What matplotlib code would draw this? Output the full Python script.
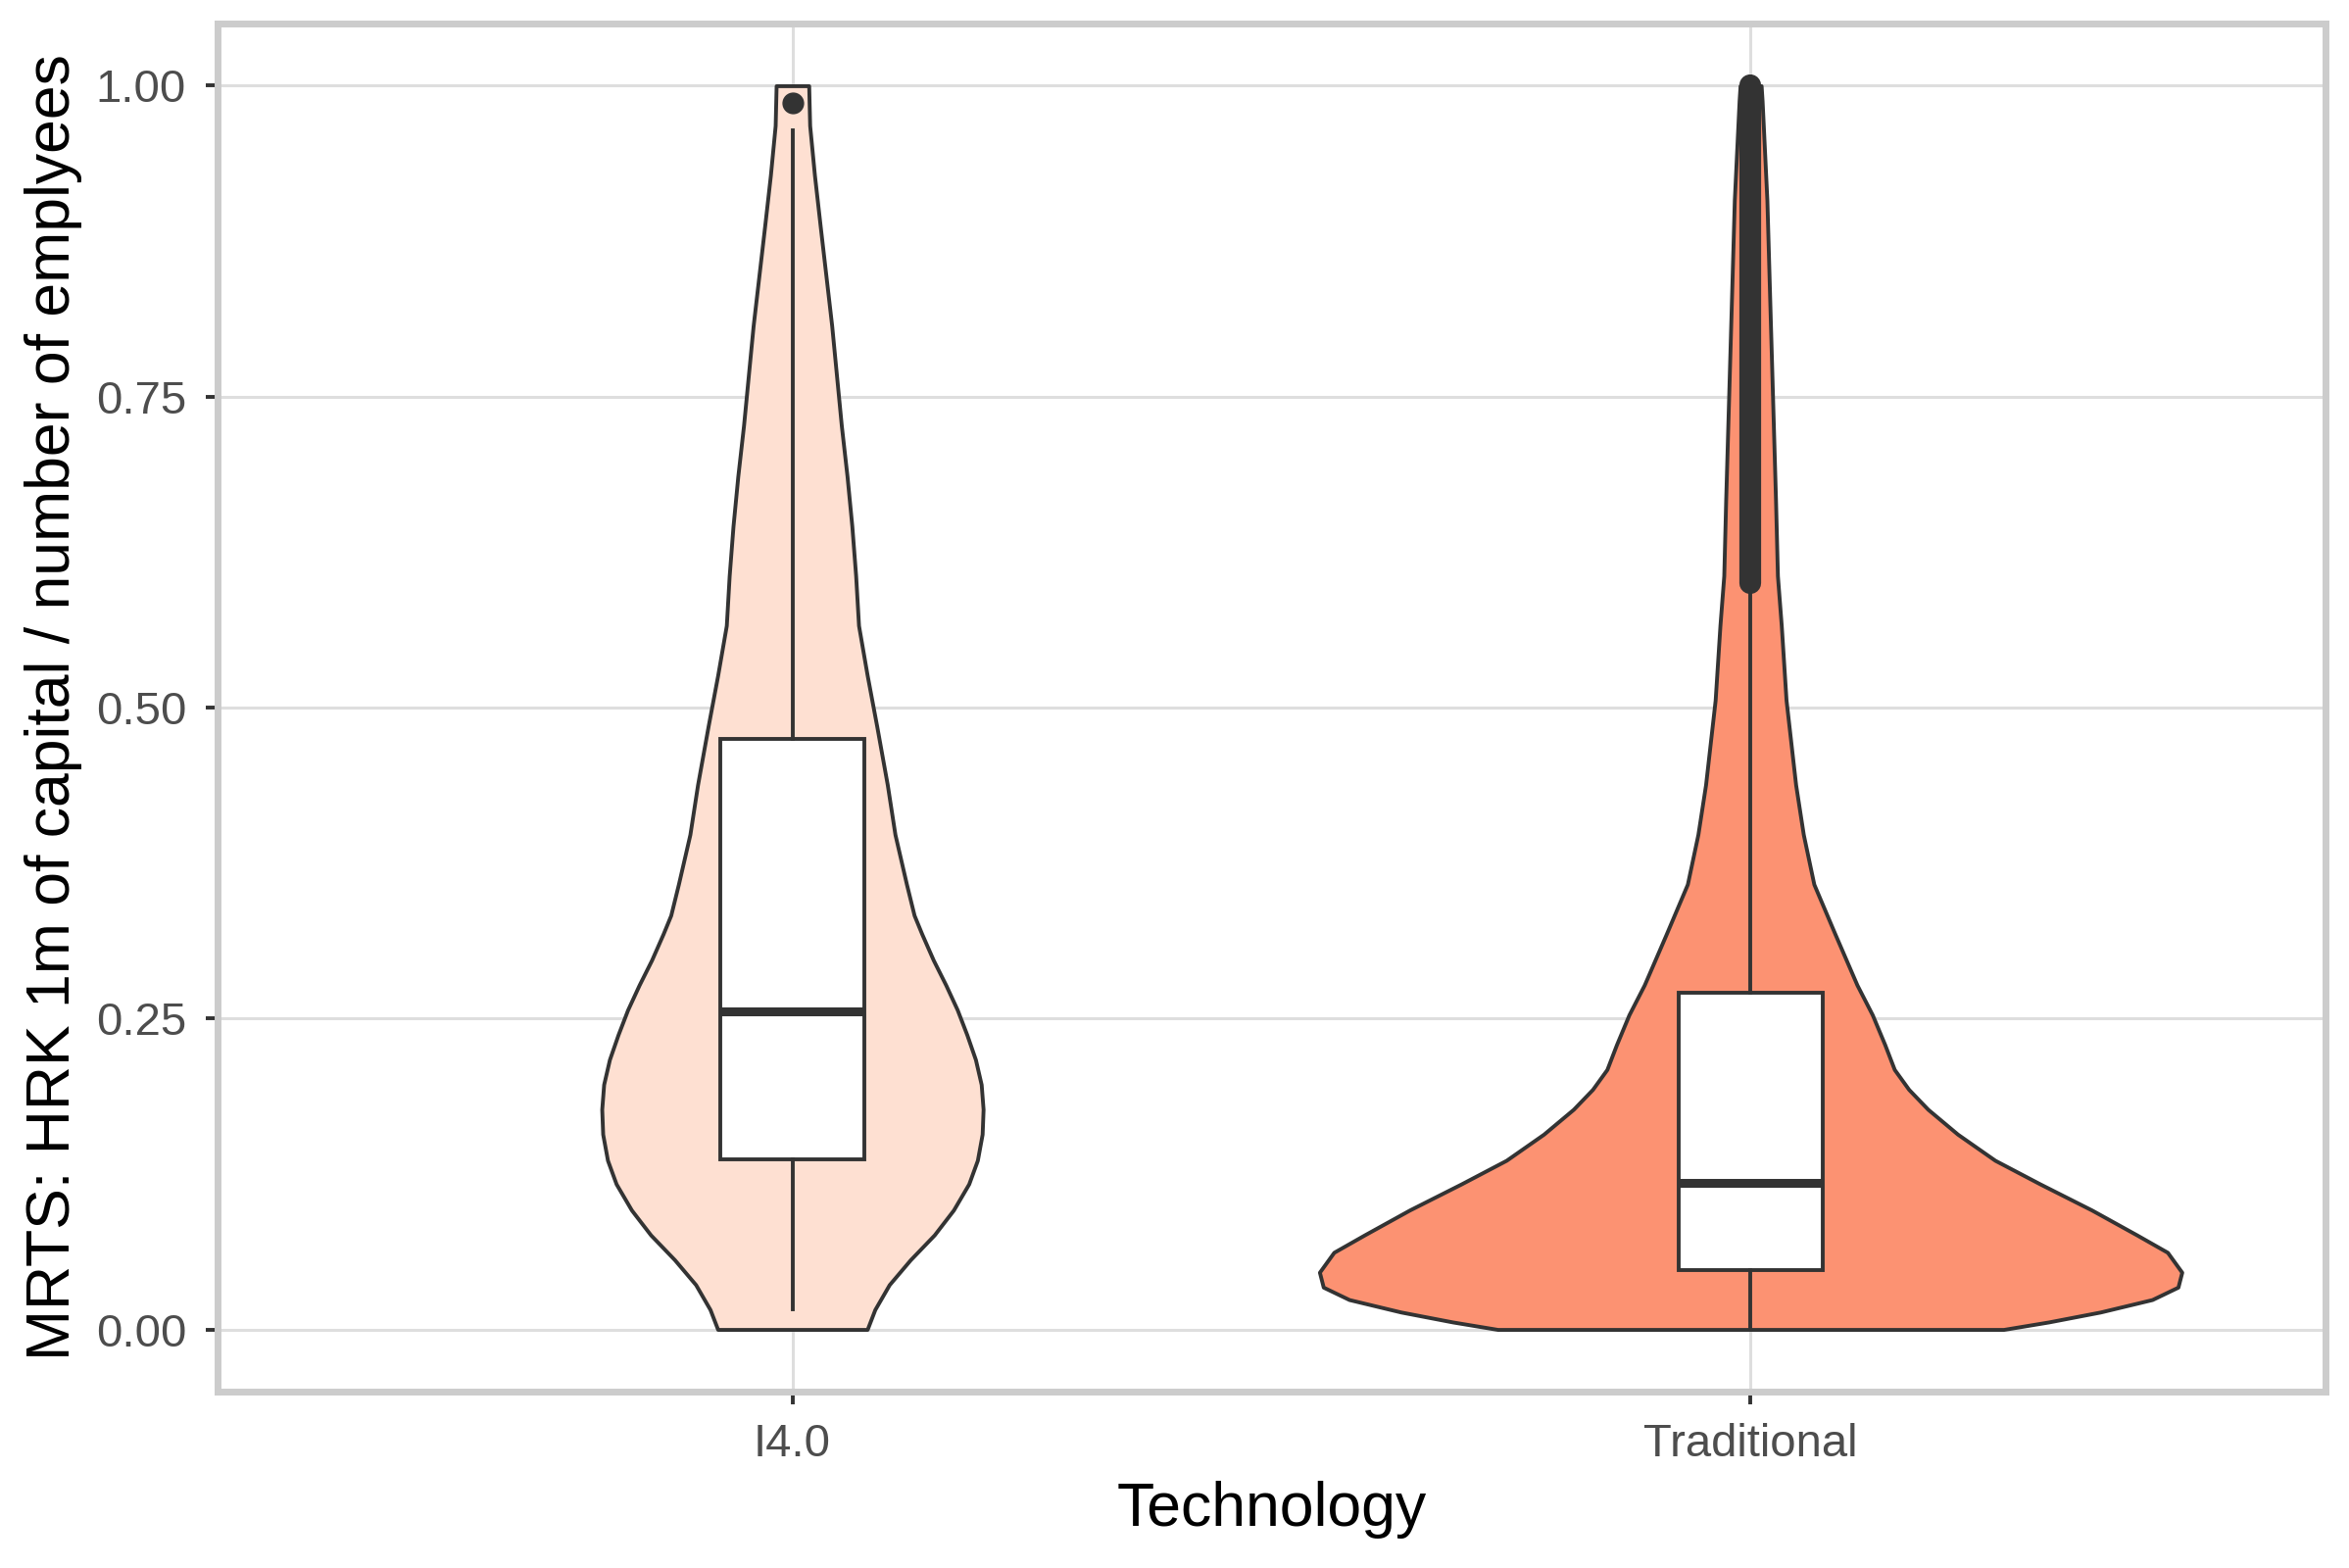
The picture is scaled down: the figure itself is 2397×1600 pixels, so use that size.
import numpy as np
import matplotlib.pyplot as plt

plt.rcParams['font.family'] = ['Liberation Sans', 'DejaVu Sans']

# --- Datos ---
categories = ['I4.0', 'Traditional']
fills = ['#FEE0D2', '#FC9272']

# contorno de los violines: valor y semi-ancho (unidades del eje x)
i40_y = [0.000, 0.016, 0.036, 0.056, 0.076, 0.096, 0.117, 0.136, 0.157, 0.177,
         0.197, 0.217, 0.237, 0.257, 0.277, 0.297, 0.318, 0.333, 0.358, 0.398,
         0.438, 0.485, 0.526, 0.566, 0.606, 0.646, 0.686, 0.727, 0.767, 0.807,
         0.847, 0.887, 0.928, 0.968, 1.000]
i40_hw = [0.078, 0.086, 0.101, 0.123, 0.148, 0.168, 0.184, 0.193, 0.198, 0.199,
          0.197, 0.191, 0.182, 0.172, 0.160, 0.147, 0.135, 0.127, 0.119, 0.107,
          0.099, 0.088, 0.078, 0.069, 0.066, 0.062, 0.057, 0.051, 0.046, 0.041,
          0.035, 0.029, 0.023, 0.018, 0.017]

trad_y = [0.000, 0.006, 0.014, 0.024, 0.034, 0.046, 0.062, 0.076, 0.096, 0.117,
          0.136, 0.157, 0.177, 0.193, 0.209, 0.229, 0.253, 0.277, 0.318, 0.358,
          0.398, 0.438, 0.506, 0.566, 0.606, 0.667, 0.747, 0.827, 0.908, 0.988,
          1.000]
trad_hw = [0.264, 0.311, 0.365, 0.419, 0.446, 0.450, 0.435, 0.403, 0.356, 0.302,
           0.255, 0.216, 0.185, 0.165, 0.150, 0.140, 0.127, 0.111, 0.088, 0.066,
           0.055, 0.047, 0.037, 0.032, 0.028, 0.026, 0.023, 0.020, 0.017, 0.012,
           0.011]

# estadisticos del boxplot
q1 = [0.137, 0.048]
med = [0.256, 0.118]
q3 = [0.475, 0.271]
whis_lo = [0.016, 0.000]
whis_hi = [0.964, 0.600]
i40_outliers = [0.986]
trad_outlier_span = [0.600, 1.000]   # banda continua de outliers

dark = '#333333'

fig = plt.figure(figsize=(23.97, 16), dpi=100)
ax = fig.add_axes([0.0926, 0.1125, 0.8974, 0.8725])

# --- Violines ---
violins = [(i40_y, i40_hw), (trad_y, trad_hw)]
for pos, (vy, vhw), col in zip([1, 2], violins, fills):
    vy = np.array(vy)
    vhw = np.array(vhw)
    ax.fill_betweenx(vy, pos - vhw, pos + vhw, facecolor=col,
                     edgecolor=dark, linewidth=2.8, joinstyle='round', zorder=2)

# --- Boxplots ---
stats = []
for i in range(2):
    stats.append(dict(med=med[i], q1=q1[i], q3=q3[i],
                      whislo=whis_lo[i], whishi=whis_hi[i],
                      fliers=i40_outliers if i == 0 else []))

ax.bxp(stats, positions=[1, 2], widths=0.15, patch_artist=True,
       showcaps=False, manage_ticks=False, zorder=3,
       boxprops=dict(facecolor='white', edgecolor=dark, linewidth=2.8),
       whiskerprops=dict(color=dark, linewidth=2.8),
       medianprops=dict(color=dark, linewidth=6.5, solid_capstyle='butt'),
       flierprops=dict(marker='o', markerfacecolor=dark,
                       markeredgecolor=dark, markersize=15))

# banda de outliers de Traditional
ax.plot([2, 2], trad_outlier_span, color=dark, linewidth=16,
        solid_capstyle='round', zorder=4)

# --- Ejes ---
ax.set_xlim(0.4, 2.6)
ax.set_ylim(-0.05, 1.05)
ax.set_xticks([1, 2], categories)
ax.set_yticks([0, 0.25, 0.5, 0.75, 1.0], ['0.00', '0.25', '0.50', '0.75', '1.00'])

ax.grid(True, color='#DEDEDE', linewidth=2.2)
ax.set_axisbelow(True)
for s in ax.spines.values():
    s.set_color('#CCCCCC')
    s.set_linewidth(5)

ax.tick_params(length=9, width=2.8, color=dark, labelsize=34,
               labelcolor='#4D4D4D', pad=14)

ax.set_xlabel('Technology', fontsize=45, labelpad=11)
ax.set_ylabel('MRTS: HRK 1m of capital / number of emplyees', fontsize=45,
              labelpad=10)

fig.savefig('out.png', dpi=100)
